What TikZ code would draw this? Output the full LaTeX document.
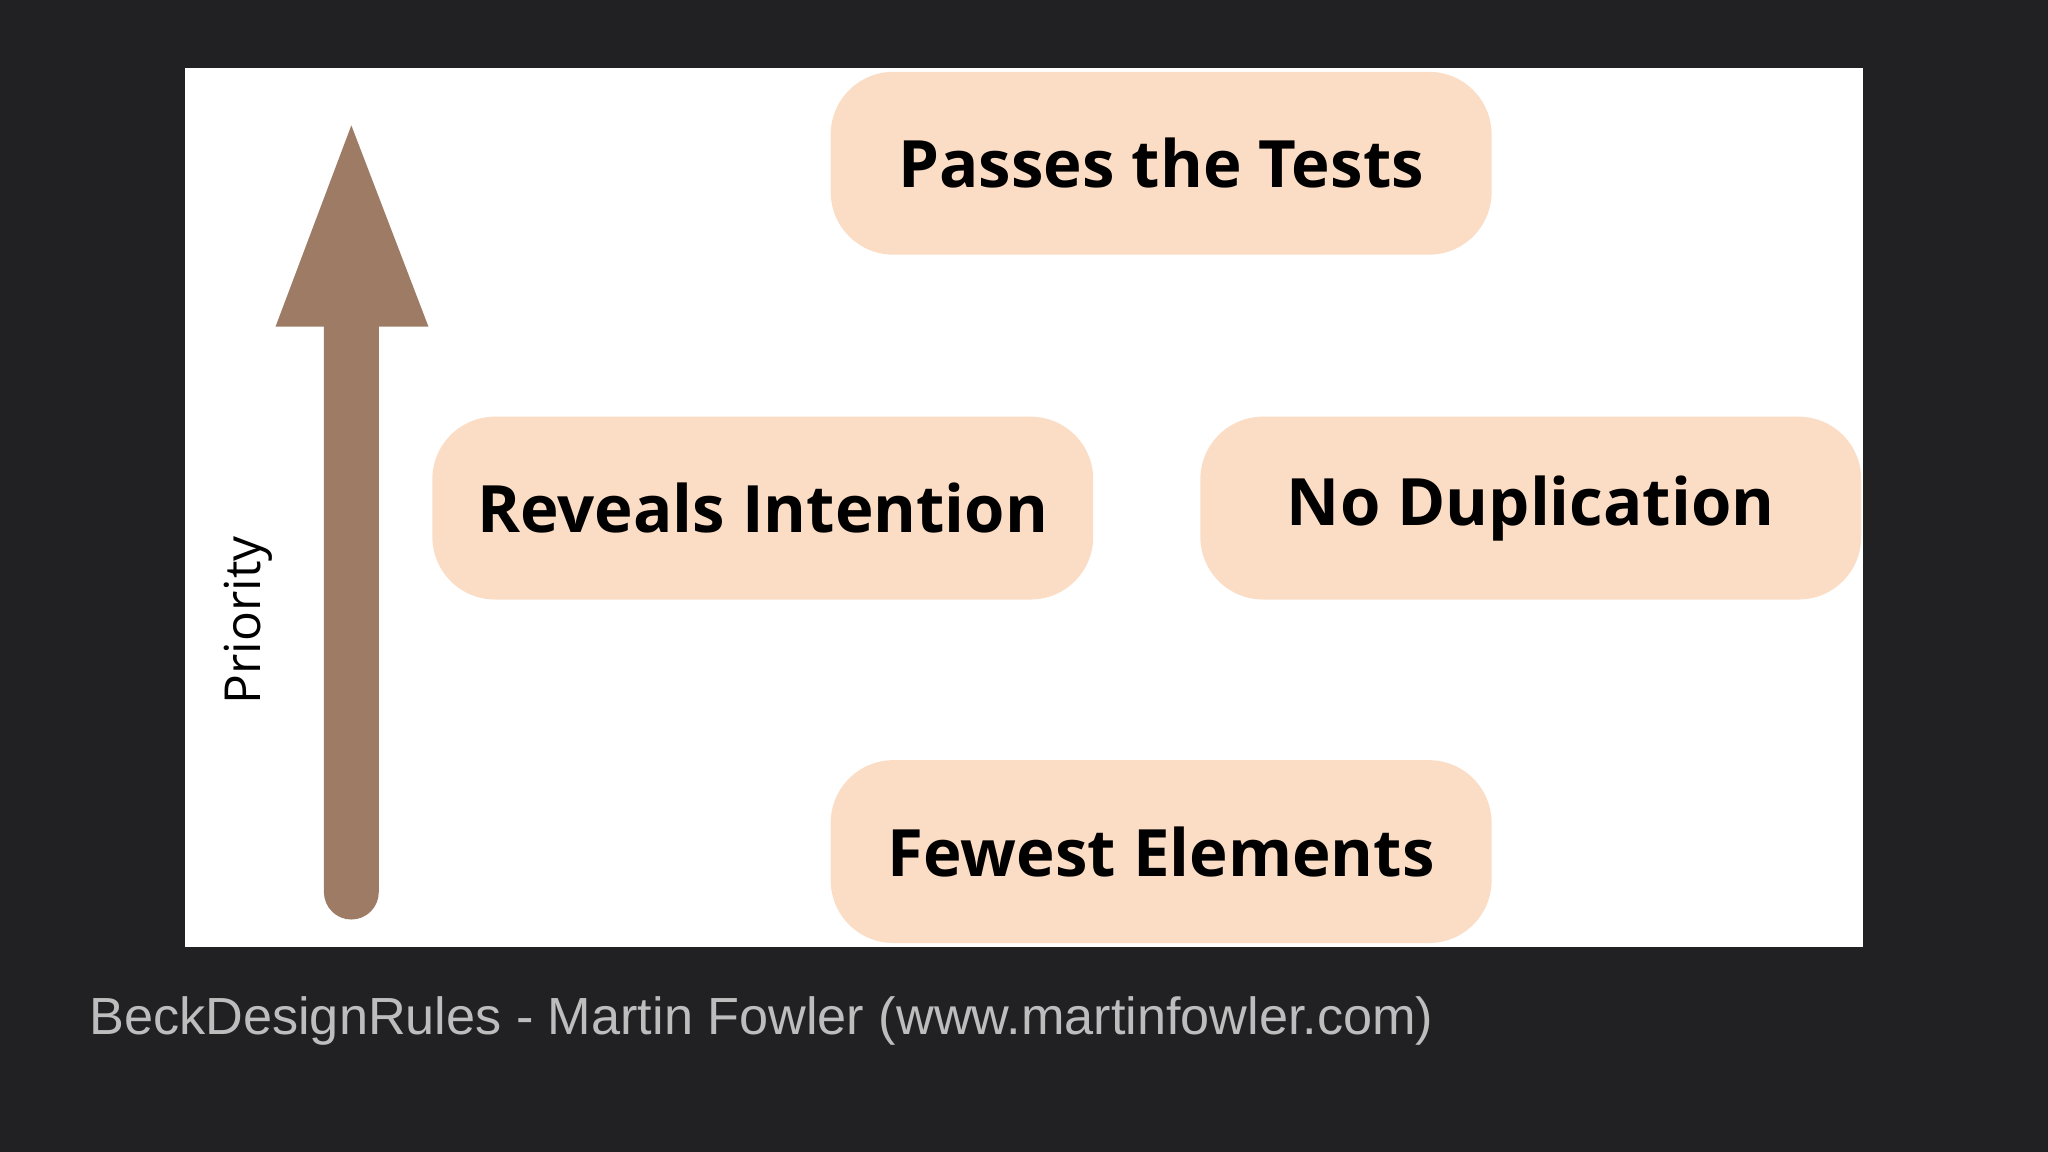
\documentclass[tikz,border=0pt]{standalone}
\usepackage{fontspec}
\setmainfont{Open Sans}
\newfontfamily\capfont{Liberation Sans}
\definecolor{bgdark}{HTML}{212123}
\definecolor{peach}{HTML}{FBDDC6}
\definecolor{arrowbrown}{HTML}{9E7B65}
\definecolor{capgray}{HTML}{BDBDBD}
\tikzset{
  blob/.style={fill=peach, rounded corners=24pt, minimum width=253pt, minimum height=70pt, inner sep=0pt,
     font=\fontsize{25}{30}\selectfont\bfseries, text=black}
}
\begin{document}
\begin{tikzpicture}[x=0.5pt,y=-0.5pt]
\useasboundingbox (0,0) rectangle (1568,882);
\fill[bgdark] (0,0) rectangle (1568,882);
\fill[white] (142,52) rectangle (1426,725);
% arrow
\fill[arrowbrown] (248,250) -- (248,683) arc[start angle=180,end angle=360,radius=10.5pt] -- (290,250) -- (328,250) -- (269,96) -- (211,250) -- cycle;
\node[rotate=90, font=\fontsize{19}{22}\selectfont, text=black] (prio) at (190,475) {Priority};
\node[blob] (pass) at (889,125) {Passes the Tests};
\node[blob] (rev) at (584,389) {Reveals Intention};
\node[blob] (dup) at (1172,389) {No Duplication};
\node[blob] (few) at (889,652) {Fewest Elements};
\node[anchor=base west, inner sep=0pt, text=capgray, font=\capfont\fontsize{20}{24}\selectfont] (cap) at (68,792) {BeckDesignRules - Martin Fowler (www.martinfowler.com)};
\end{tikzpicture}
\end{document}
